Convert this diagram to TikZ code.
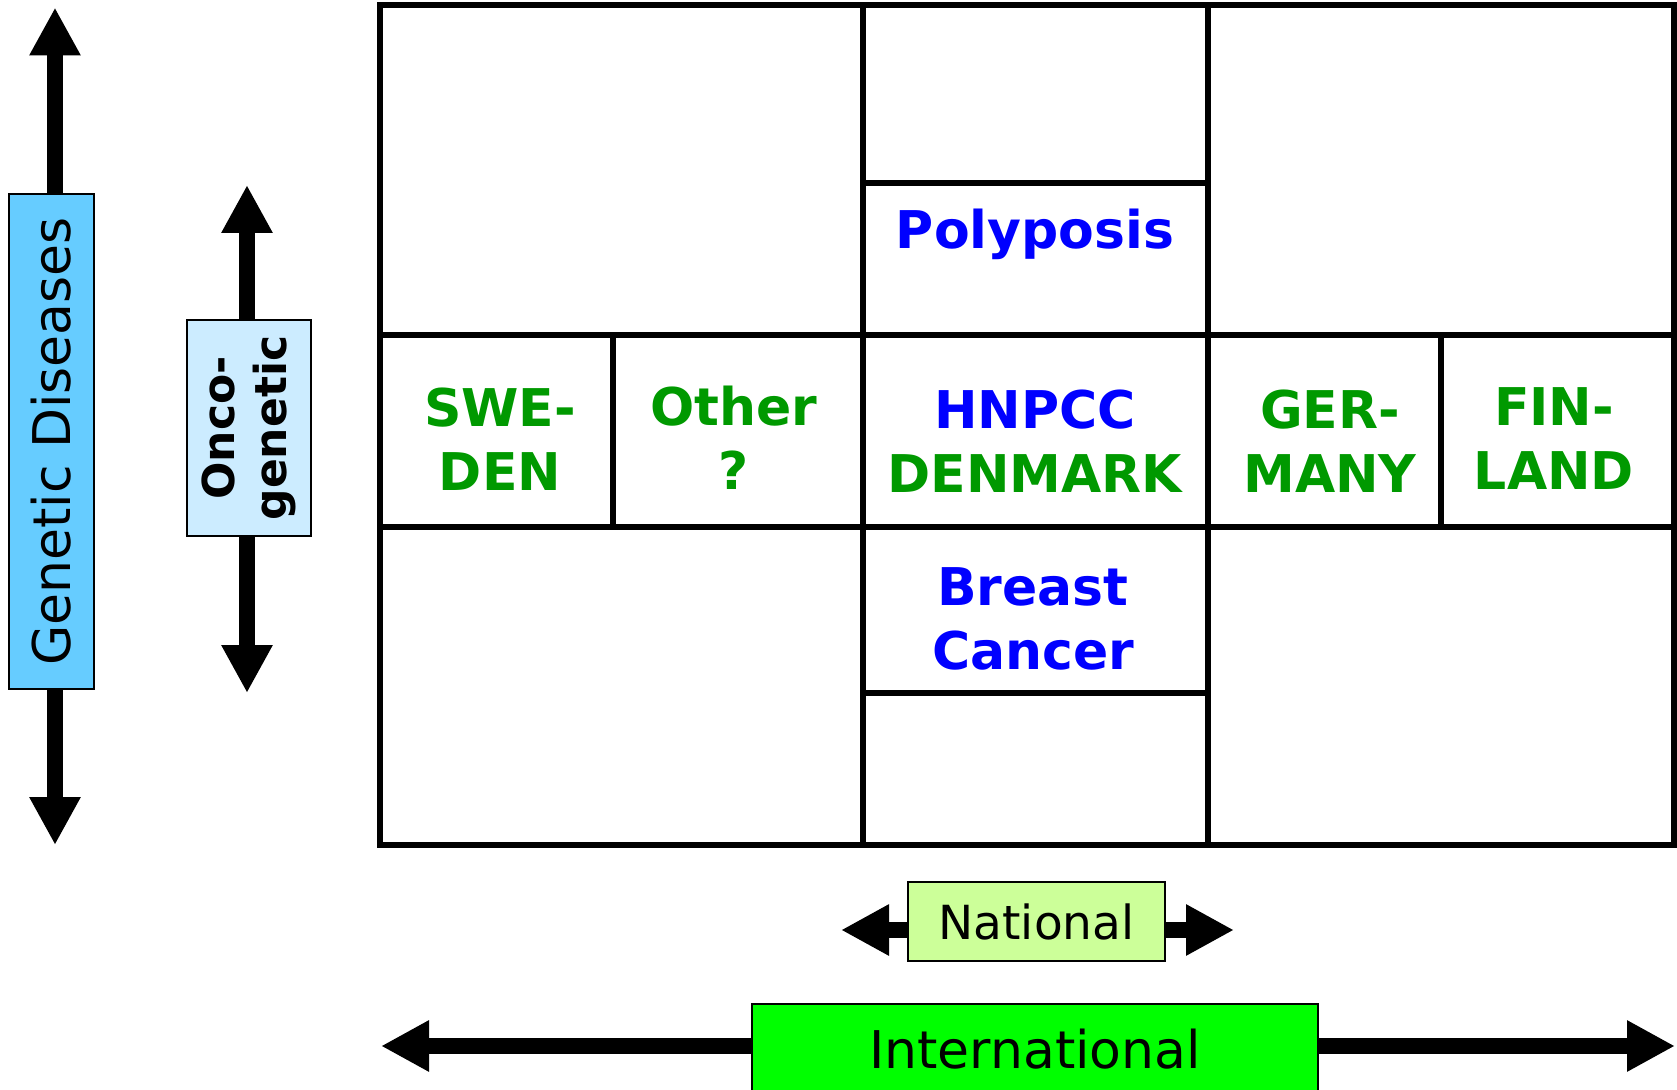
\documentclass[tikz,border=0pt]{standalone}
\usepackage{fontspec}
\setmainfont{DejaVu Sans}
\usetikzlibrary{arrows.meta}
\definecolor{gdblue}{HTML}{66CCFF}
\definecolor{oncoblue}{HTML}{CCECFF}
\definecolor{natgreen}{HTML}{CCFF99}
\definecolor{intgreen}{HTML}{00FF00}
\definecolor{country}{HTML}{009900}
\definecolor{disease}{HTML}{0000FF}
\begin{document}
\begin{tikzpicture}[x=0.5pt, y=0.5pt,
        grid/.style={line width=2.6pt},
        cell/.style={font=\fontsize{26}{32}\selectfont\bfseries, align=center},
        tag/.style={draw, line width=1pt, inner sep=0pt},
        fat/.style={line width=8pt, -{Triangle[length=24pt, width=24pt]}}]
    \useasboundingbox (0,0) rectangle (1677,1089);
    \draw[grid] (380,244) rectangle (1674,1084);
    \draw[grid] (863,244) -- (863,1084) (1208,244) -- (1208,1084);
    \draw[grid] (380,562) -- (1674,562) (380,754) -- (1674,754);
    \draw[grid] (863,906) -- (1208,906) (863,396) -- (1208,396);
    \draw[grid] (613,562) -- (613,754) (1441,562) -- (1441,754);
    \node[cell, text=disease] (polyp) at (1035,855) {Polyposis};
    \node[cell, text=country] (swe) at (500,650) {SWE-\\DEN};
    \node[cell, text=country] (other) at (734,651) {Other\\?};
    \node[cell, text=disease] (hnpcc) at (1035,648) {HNPCC\\\textcolor{country}{DENMARK}};
    \node[cell, text=country] (ger) at (1330,648) {GER-\\MANY};
    \node[cell, text=country] (fin) at (1554,650) {FIN-\\LAND};
    \node[cell, text=disease] (breast) at (1033,470) {Breast\\Cancer};
    \node[tag, fill=gdblue, rotate=90, minimum width=247.5pt, minimum height=42.5pt,
        font=\fontsize{26}{32}\selectfont] (gd) at (51.5,647.5) {Genetic Diseases};
    \node[tag, fill=oncoblue, rotate=90, minimum width=108pt, minimum height=62pt,
        align=center, font=\fontsize{22}{26}\selectfont\bfseries] (onco) at (249,661) {Onco-\\genetic};
    \node[tag, fill=natgreen, minimum width=128.5pt, minimum height=39.5pt,
        font=\fontsize{23.5}{28}\selectfont] (nat) at (1036.5,167.5) {National};
    \node[tag, fill=intgreen, minimum width=283pt, minimum height=45pt,
        font=\fontsize{26}{32}\selectfont] (int) at (1035,40) {International};
    \coordinate (gdtop) at (55,1081.5);
    \coordinate (gdbot) at (55,244);
    \coordinate (oncotop) at (247,904);
    \coordinate (oncobot) at (247,396);
    \coordinate (natl) at (841,159);
    \coordinate (natr) at (1234,159);
    \coordinate (intl) at (381,43);
    \coordinate (intr) at (1675,43);
    \draw[fat] (gd.east -| gdtop) -- (gdtop);
    \draw[fat] (gd.west -| gdbot) -- (gdbot);
    \draw[fat] (onco.east -| oncotop) -- (oncotop);
    \draw[fat] (onco.west -| oncobot) -- (oncobot);
    \draw[fat] (nat.west |- natl) -- (natl);
    \draw[fat] (nat.east |- natr) -- (natr);
    \draw[fat] (int.west |- intl) -- (intl);
    \draw[fat] (int.east |- intr) -- (intr);
\end{tikzpicture}
\end{document}
